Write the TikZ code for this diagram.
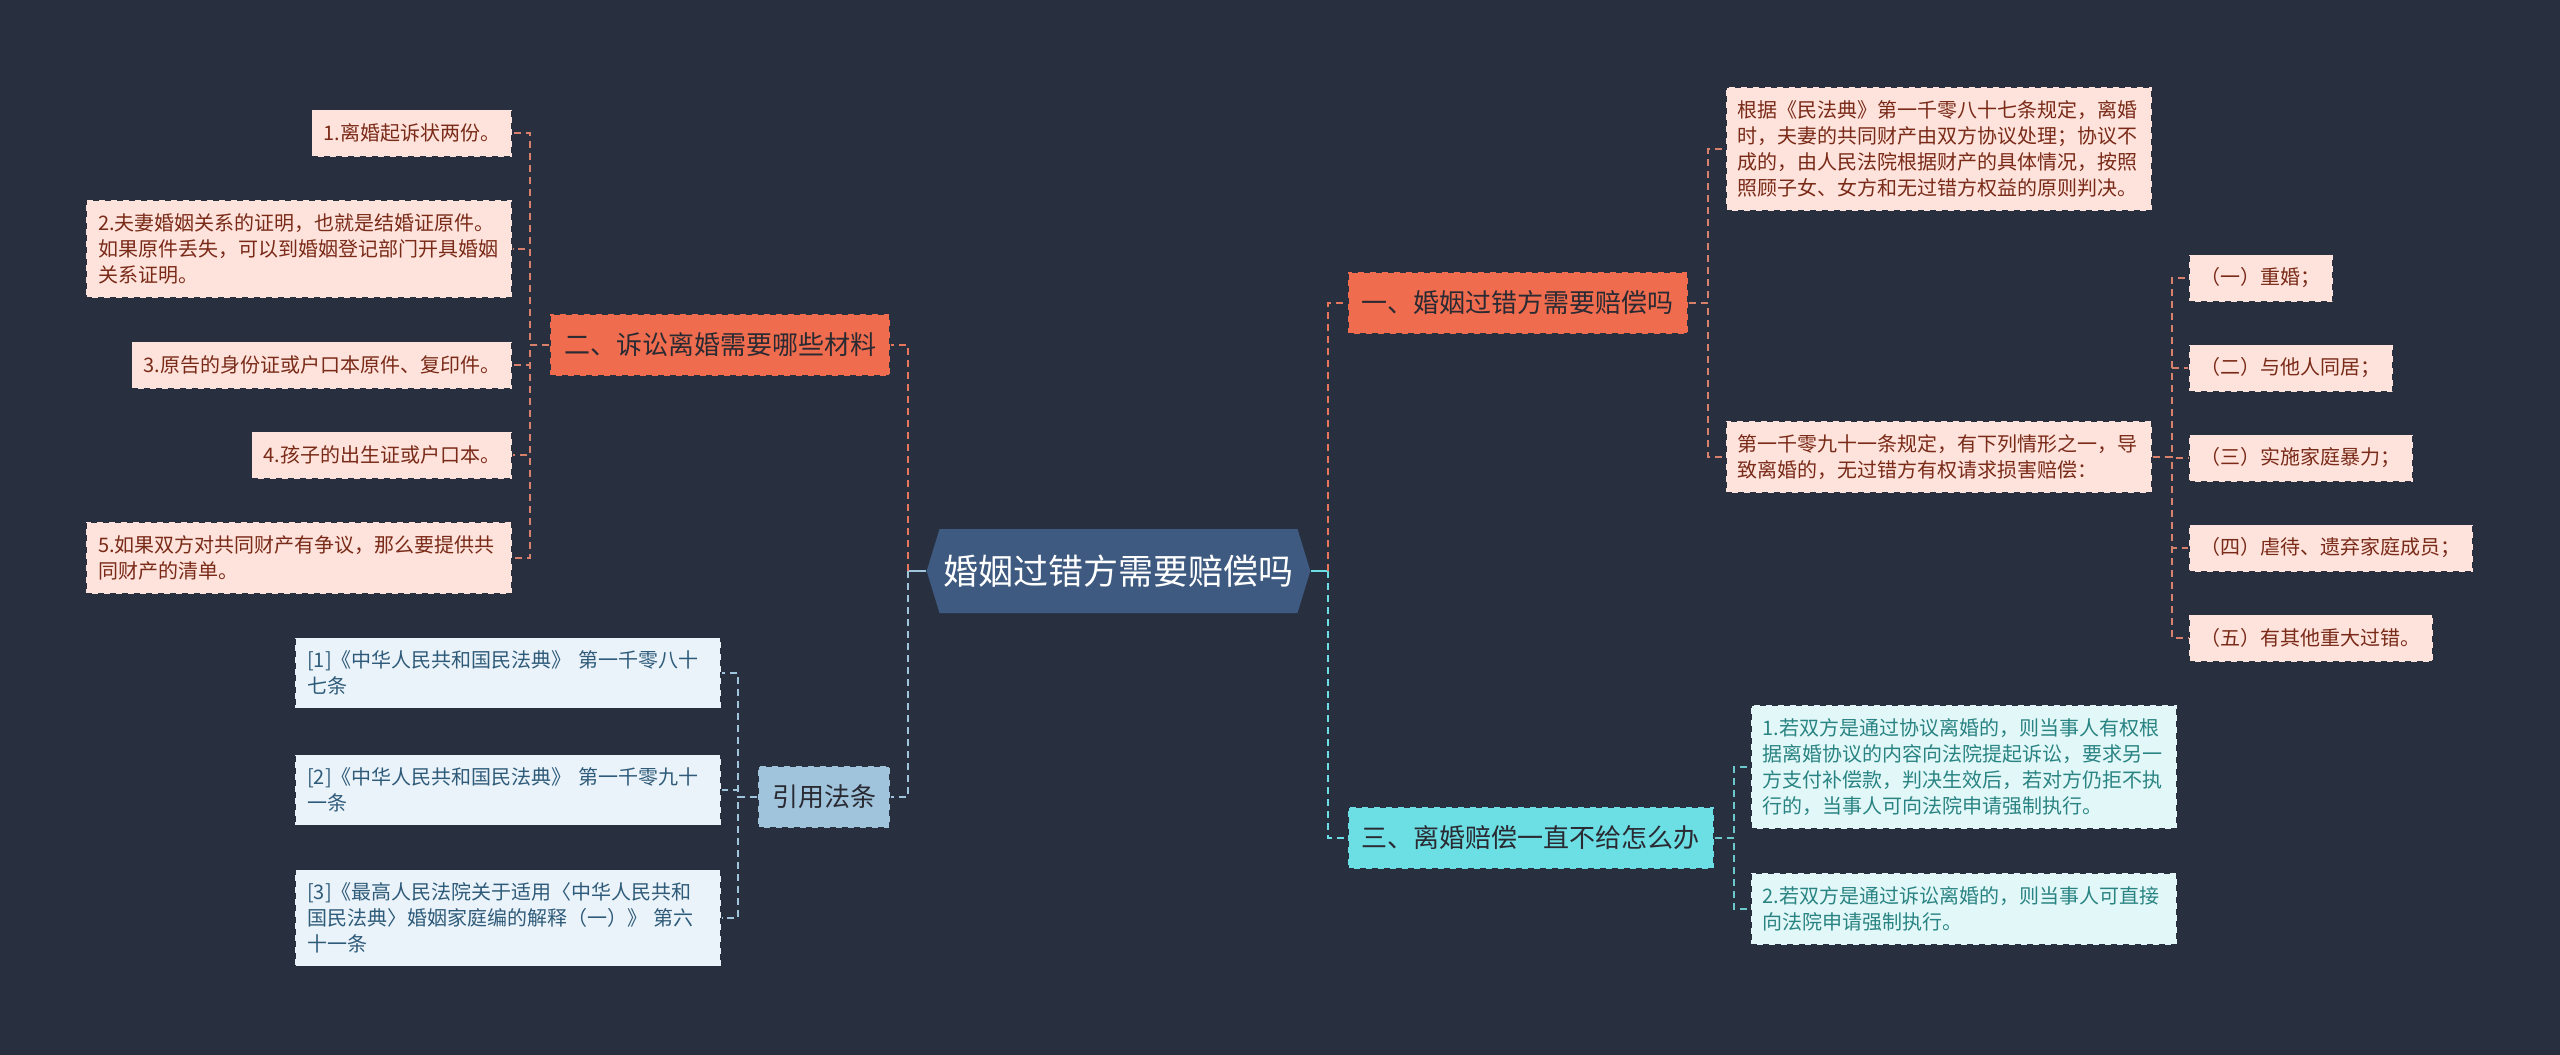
\documentclass[tikz,border=0pt]{standalone}
\usepackage{fontspec}
\setmainfont{Noto Sans CJK SC}
\usetikzlibrary{shapes.symbols}

\definecolor{bgnavy}{HTML}{283040}
\definecolor{rootblue}{HTML}{3E5A80}
\definecolor{orangefill}{HTML}{F06C4E}
\definecolor{orangeline}{HTML}{E8765C}
\definecolor{peachline}{HTML}{D9806C}
\definecolor{peachfill}{HTML}{FDE3DB}
\definecolor{peachtext}{HTML}{7A2A18}
\definecolor{bluefill}{HTML}{9FC4DC}
\definecolor{paleblue}{HTML}{EAF3F9}
\definecolor{bluetext}{HTML}{2F5B7A}
\definecolor{cyanfill}{HTML}{6CDFE4}
\definecolor{cyanline}{HTML}{6CC8CB}
\definecolor{palecyan}{HTML}{E2F8F8}
\definecolor{cyantext}{HTML}{2A8383}
\definecolor{darktext}{HTML}{2A2A33}

\begin{document}
\begin{tikzpicture}[x=0.5pt,y=-0.5pt]

    \tikzstyle{box}=[draw=bgnavy, dashed, line width=0.8pt, align=left]
    \tikzstyle{topic}=[box, inner xsep=7pt, minimum height=31pt, font={\fontsize{13}{15}\selectfont}, text=darktext]
    \tikzstyle{leaf}=[box, inner xsep=6pt, inner ysep=6.6pt, minimum height=23.5pt, font={\fontsize{10}{13}\selectfont}]
    \tikzstyle{wide}=[text width=201pt]
    \tikzstyle{peach}=[leaf, fill=peachfill, text=peachtext]
    \tikzstyle{icy}=[leaf, fill=paleblue, text=bluetext]
    \tikzstyle{mint}=[leaf, fill=palecyan, text=cyantext]
    \tikzstyle{link}=[line width=1pt, dash pattern=on 3.5pt off 2.5pt]

    \fill[bgnavy] (0,0) rectangle (2560,1055);

    \node[shape=signal, signal to=west and east, signal pointer angle=146,
          fill=rootblue, text=white, inner xsep=2pt, minimum width=191.5pt, minimum height=42pt,
          font={\fontsize{17.5}{20}\selectfont}] (Root) at (1118.5,571) {婚姻过错方需要赔偿吗};
    \coordinate (LeftHub) at (908,571);
    \coordinate (RightHub) at (1328,571);

    % left side
    \node[topic, fill=orangefill, anchor=east] (Materials) at (891,345) {二、诉讼离婚需要哪些材料};
    \node[topic, fill=bluefill, anchor=east] (Laws) at (891,797) {引用法条};

    \node[peach, anchor=east] (Mat1) at (513,133) {1.离婚起诉状两份。};
    \node[peach, wide, anchor=east] (Mat2) at (513,249) {2.夫妻婚姻关系的证明，也就是结婚证原件。\\如果原件丢失，可以到婚姻登记部门开具婚姻\\关系证明。};
    \node[peach, anchor=east] (Mat3) at (513,365) {3.原告的身份证或户口本原件、复印件。};
    \node[peach, anchor=east] (Mat4) at (513,455) {4.孩子的出生证或户口本。};
    \node[peach, wide, anchor=east] (Mat5) at (513,558) {5.如果双方对共同财产有争议，那么要提供共\\同财产的清单。};

    \node[icy, wide, anchor=east] (Law1) at (722,673) {[1]《中华人民共和国民法典》 第一千零八十\\七条};
    \node[icy, wide, anchor=east] (Law2) at (722,790) {[2]《中华人民共和国民法典》 第一千零九十\\一条};
    \node[icy, wide, anchor=east] (Law3) at (722,918) {[3]《最高人民法院关于适用〈中华人民共和\\国民法典〉婚姻家庭编的解释（一）》 第六\\十一条};

    % right side
    \node[topic, fill=orangefill, anchor=west] (Fault) at (1347,303) {一、婚姻过错方需要赔偿吗};
    \node[topic, fill=cyanfill, anchor=west] (Unpaid) at (1347,838) {三、离婚赔偿一直不给怎么办};

    \node[peach, wide, anchor=west] (Fault1) at (1725,149) {根据《民法典》第一千零八十七条规定，离婚\\时，夫妻的共同财产由双方协议处理；协议不\\成的，由人民法院根据财产的具体情况，按照\\照顾子女、女方和无过错方权益的原则判决。};
    \node[peach, wide, anchor=west] (Fault2) at (1725,457) {第一千零九十一条规定，有下列情形之一，导\\致离婚的，无过错方有权请求损害赔偿：};

    \node[peach, anchor=west] (Case1) at (2188,278) {（一）重婚；};
    \node[peach, anchor=west] (Case2) at (2188,368) {（二）与他人同居；};
    \node[peach, anchor=west] (Case3) at (2188,458) {（三）实施家庭暴力；};
    \node[peach, anchor=west] (Case4) at (2188,548) {（四）虐待、遗弃家庭成员；};
    \node[peach, anchor=west] (Case5) at (2188,638) {（五）有其他重大过错。};

    \node[mint, wide, anchor=west] (Unpaid1) at (1750,767) {1.若双方是通过协议离婚的，则当事人有权根\\据离婚协议的内容向法院提起诉讼，要求另一\\方支付补偿款，判决生效后，若对方仍拒不执\\行的，当事人可向法院申请强制执行。};
    \node[mint, wide, anchor=west] (Unpaid2) at (1750,909) {2.若双方是通过诉讼离婚的，则当事人可直接\\向法院申请强制执行。};

    % connectors
    \draw[line width=1pt, bluefill] (Root.west) -- (LeftHub);
    \draw[line width=1pt, cyanfill] (Root.east) -- (RightHub);
    \draw[link, orangeline] (LeftHub) |- (Materials.east);
    \draw[link, bluefill] (LeftHub) |- (Laws.east);
    \draw[link, orangeline] (RightHub) |- (Fault.west);
    \draw[link, cyanfill] (RightHub) |- (Unpaid.west);

    \foreach \leaf in {Mat1,Mat2,Mat3,Mat4,Mat5}
        \draw[link, peachline] (Materials.west) -- ++(-19,0) |- (\leaf.east);
    \foreach \leaf in {Law1,Law2,Law3}
        \draw[link, bluefill] (Laws.west) -- ++(-19,0) |- (\leaf.east);
    \foreach \leaf in {Fault1,Fault2}
        \draw[link, peachline] (Fault.east) -- ++(19,0) |- (\leaf.west);
    \foreach \leaf in {Case1,Case2,Case3,Case4,Case5}
        \draw[link, peachline] (Fault2.east) -- ++(19,0) |- (\leaf.west);
    \foreach \leaf in {Unpaid1,Unpaid2}
        \draw[link, cyanline] (Unpaid.east) -- ++(19,0) |- (\leaf.west);

\end{tikzpicture}
\end{document}
